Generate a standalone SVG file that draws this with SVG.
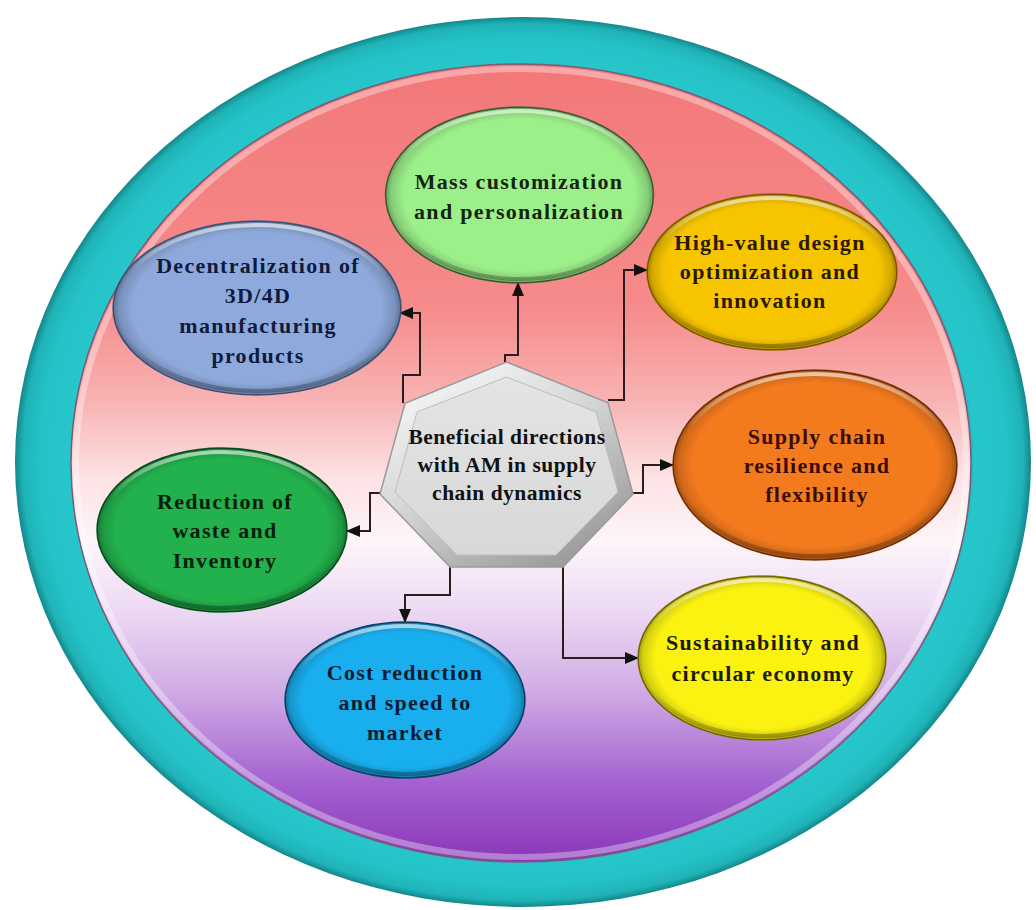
<svg xmlns="http://www.w3.org/2000/svg" width="1036" height="910" viewBox="0 0 1036 910">
<style>
.t{font-family:"Liberation Serif","Times New Roman",serif;font-weight:bold;font-size:22px;letter-spacing:1.3px;text-anchor:middle}
.ct{font-family:"Liberation Serif","Times New Roman",serif;font-weight:bold;font-size:21.5px;letter-spacing:0.5px;text-anchor:middle;fill:#111}
.rim{fill:url(#rim)}
.hl{fill:none;stroke:url(#hl);stroke-width:4}
.conn{fill:none;stroke:#2b1d1d;stroke-width:2;marker-end:url(#arr)}
</style>
<defs>
<radialGradient id="rim" cx="0.5" cy="0.5" r="0.5">
<stop offset="0.86" stop-color="#000" stop-opacity="0"/>
<stop offset="0.96" stop-color="#000" stop-opacity="0.15"/>
<stop offset="1" stop-color="#000" stop-opacity="0.35"/>
</radialGradient>
<linearGradient id="hl" x1="0" y1="0" x2="0" y2="1">
<stop offset="0" stop-color="#fff" stop-opacity="0.6"/>
<stop offset="0.3" stop-color="#fff" stop-opacity="0"/>
<stop offset="0.7" stop-color="#000" stop-opacity="0"/>
<stop offset="1" stop-color="#000" stop-opacity="0.28"/>
</linearGradient>
<radialGradient id="ring" cx="0.5" cy="0.5" r="0.5">
<stop offset="0.86" stop-color="#179a9e"/>
<stop offset="0.89" stop-color="#27c6ca"/>
<stop offset="0.95" stop-color="#25c3c7"/>
<stop offset="0.985" stop-color="#1fb3b7"/>
<stop offset="1" stop-color="#13868a"/>
</radialGradient>
<linearGradient id="bg" x1="0" y1="0" x2="0" y2="1">
<stop offset="0" stop-color="#f37878"/>
<stop offset="0.3" stop-color="#f68a8a"/>
<stop offset="0.42" stop-color="#f8b2b2"/>
<stop offset="0.52" stop-color="#fde2e4"/>
<stop offset="0.6" stop-color="#fdf5f9"/>
<stop offset="0.68" stop-color="#eedbf4"/>
<stop offset="0.78" stop-color="#d2afe6"/>
<stop offset="0.9" stop-color="#a462d0"/>
<stop offset="1" stop-color="#8a36b8"/>
</linearGradient>
<linearGradient id="bevel" x1="0" y1="0" x2="0.7" y2="1">
<stop offset="0" stop-color="#ffffff"/>
<stop offset="0.5" stop-color="#d8d8d8"/>
<stop offset="1" stop-color="#9c9c9c"/>
</linearGradient>
<linearGradient id="face" x1="0" y1="0" x2="0" y2="1">
<stop offset="0" stop-color="#e4e4e4"/>
<stop offset="1" stop-color="#d8d8d8"/>
</linearGradient>
<marker id="arr" markerUnits="userSpaceOnUse" markerWidth="14" markerHeight="12" refX="13" refY="6" orient="auto">
<path d="M0,0 L14,6 L0,12 z" fill="#111"/>
</marker>
</defs>

<g id="background">
<ellipse cx="523" cy="462" rx="508" ry="445" fill="url(#ring)"/>
<ellipse cx="521" cy="463" rx="450" ry="399" fill="url(#bg)" stroke="#7a5a7a" stroke-width="1.5"/>
<ellipse cx="521" cy="463" rx="445" ry="394" fill="none" stroke="#fff" stroke-opacity="0.35" stroke-width="6"/>
</g>

<g id="connectors">
<path class="conn" d="M505,362 V355 H518 V283"/>
<path class="conn" d="M403,403 V375 H420 V313 H400"/>
<path class="conn" d="M608,400 H624 V270 H647"/>
<path class="conn" d="M633,493 H643 V465 H673"/>
<path class="conn" d="M380,493 H370 V531 H347"/>
<path class="conn" d="M450,567 V595 H405 V622"/>
<path class="conn" d="M563,567 V658 H638"/>
</g>

<g id="node-center">
<polygon points="506.5,362 608,402.7 633,494 563,567 450,567 380,494 405,403.3" fill="url(#bevel)" stroke="#9a9a9a" stroke-width="1.5"/>
<polygon points="506.5,377 596,412 618,492 556,555 457,555 395,492 417,412" fill="url(#face)" stroke="#bdbdbd" stroke-width="1"/>
<text class="ct" x="507" y="444">Beneficial directions</text>
<text class="ct" x="507" y="472">with AM in supply</text>
<text class="ct" x="507" y="500">chain dynamics</text>
</g>

<g id="node-mass">
<ellipse cx="519.5" cy="195" rx="134" ry="88" fill="#9cf08a" stroke="#4d6b3a" stroke-width="1.5"/>
<ellipse class="rim" cx="519.5" cy="195" rx="134" ry="88"/>
<ellipse class="hl" cx="519.5" cy="195" rx="130" ry="84"/>
<text class="t" fill="#14240e" x="519" y="189">Mass customization</text>
<text class="t" fill="#14240e" x="519" y="219">and personalization</text>
</g>

<g id="node-highvalue">
<ellipse cx="772" cy="272" rx="125" ry="78" fill="#f7c500" stroke="#9a6a00" stroke-width="1.5"/>
<ellipse class="rim" cx="772" cy="272" rx="125" ry="78"/>
<ellipse class="hl" cx="772" cy="272" rx="121" ry="74"/>
<text class="t" fill="#2a1a05" x="770" y="250">High-value design</text>
<text class="t" fill="#2a1a05" x="770" y="279">optimization and</text>
<text class="t" fill="#2a1a05" x="770" y="308">innovation</text>
</g>

<g id="node-decentral">
<ellipse cx="257" cy="308" rx="144" ry="87" fill="#8eaadc" stroke="#4a5f8a" stroke-width="1.5"/>
<ellipse class="rim" cx="257" cy="308" rx="144" ry="87"/>
<ellipse class="hl" cx="257" cy="308" rx="140" ry="83"/>
<text class="t" fill="#0f1a3d" x="258" y="273">Decentralization of</text>
<text class="t" fill="#0f1a3d" x="258" y="303">3D/4D</text>
<text class="t" fill="#0f1a3d" x="258" y="333">manufacturing</text>
<text class="t" fill="#0f1a3d" x="258" y="363">products</text>
</g>

<g id="node-resilience">
<ellipse cx="815" cy="465" rx="142" ry="95" fill="#f47a1e" stroke="#8a3a0a" stroke-width="1.5"/>
<ellipse class="rim" cx="815" cy="465" rx="142" ry="95"/>
<ellipse class="hl" cx="815" cy="465" rx="138" ry="91"/>
<text class="t" fill="#3a0c08" x="817" y="444">Supply chain</text>
<text class="t" fill="#3a0c08" x="817" y="473">resilience and</text>
<text class="t" fill="#3a0c08" x="817" y="502">flexibility</text>
</g>

<g id="node-waste">
<ellipse cx="222" cy="530" rx="125" ry="82" fill="#22b14c" stroke="#0d5a22" stroke-width="1.5"/>
<ellipse class="rim" cx="222" cy="530" rx="125" ry="82"/>
<ellipse class="hl" cx="222" cy="530" rx="121" ry="78"/>
<text class="t" fill="#0a200c" x="225" y="509">Reduction of</text>
<text class="t" fill="#0a200c" x="225" y="538">waste and</text>
<text class="t" fill="#0a200c" x="225" y="568">Inventory</text>
</g>

<g id="node-sustain">
<ellipse cx="762" cy="658" rx="124" ry="82" fill="#fbf212" stroke="#8a7a10" stroke-width="1.5"/>
<ellipse class="rim" cx="762" cy="658" rx="124" ry="82"/>
<ellipse class="hl" cx="762" cy="658" rx="120" ry="78"/>
<text class="t" fill="#1c1a05" x="763" y="650">Sustainability and</text>
<text class="t" fill="#1c1a05" x="763" y="681">circular economy</text>
</g>

<g id="node-cost">
<ellipse cx="405" cy="700" rx="120" ry="78" fill="#19aeee" stroke="#0d4a80" stroke-width="1.5"/>
<ellipse class="rim" cx="405" cy="700" rx="120" ry="78"/>
<ellipse class="hl" cx="405" cy="700" rx="116" ry="74"/>
<text class="t" fill="#0a1a30" x="405" y="680">Cost reduction</text>
<text class="t" fill="#0a1a30" x="405" y="710">and speed to</text>
<text class="t" fill="#0a1a30" x="405" y="740">market</text>
</g>
</svg>
